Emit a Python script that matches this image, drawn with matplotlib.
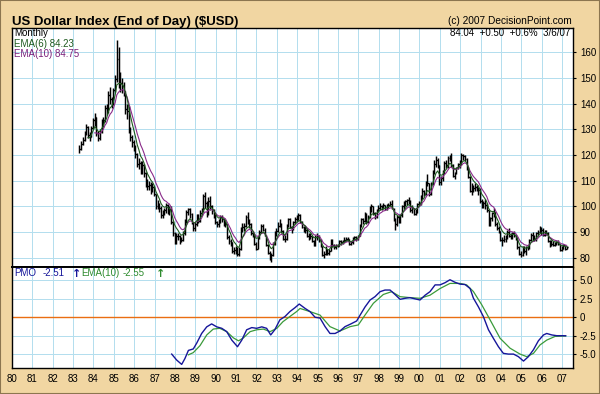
import matplotlib
matplotlib.use("Agg")
import matplotlib.pyplot as plt
from matplotlib.patches import Rectangle
import numpy as np

plt.rcParams['font.family'] = ['Liberation Sans', 'DejaVu Sans']

# ---------------- data ----------------
start_year, start_month = 1983, 4   # first monthly bar: Apr 1983, last: Mar 2007

closes = [
    122.5, 124.5, 126.0, 128.5, 131.0, 128.0, 127.0, 130.5, 133.5,
    135.0, 128.5, 126.5, 129.0, 133.0, 133.5, 138.5, 137.0, 143.5, 142.0, 140.5, 145.5,
    149.5, 157.5, 149.0, 148.0, 147.0, 145.0, 138.0, 137.0, 130.0, 127.0, 125.0, 123.0,
    120.5, 116.5, 117.0, 113.5, 116.0, 113.0, 109.0, 108.0, 108.5, 107.0, 107.5, 105.0,
    100.0, 101.0, 99.5, 96.5, 97.5, 98.5, 100.5, 98.5, 99.0, 94.0, 89.5, 86.5,
    88.5, 88.5, 86.5, 87.0, 89.5, 94.0, 98.0, 99.0, 97.0, 93.5, 91.5, 93.0,
    96.5, 94.5, 97.5, 98.5, 104.0, 101.5, 97.5, 102.0, 100.0, 98.5, 96.5, 94.0,
    93.0, 94.0, 96.0, 95.0, 94.0, 93.0, 88.0, 86.5, 86.0, 82.5, 83.0, 83.5,
    81.5, 83.5, 91.5, 92.0, 92.5, 96.0, 93.5, 93.0, 89.5, 89.0, 85.5, 83.5,
    88.0, 90.0, 92.5, 91.0, 89.0, 85.0, 82.0, 79.5, 81.0, 85.5, 90.0, 90.5,
    92.5, 93.0, 90.5, 87.5, 87.5, 92.5, 95.0, 92.0, 91.5, 94.0, 95.0, 95.5,
    96.5, 94.0, 92.0, 91.0, 91.0, 88.5, 88.5, 88.5, 86.5, 85.0, 88.0, 88.5,
    87.0, 84.5, 81.0, 81.5, 83.0, 82.0, 82.5, 86.5, 85.0, 84.0, 85.0, 84.5,
    86.5, 86.0, 86.5, 87.0, 87.5, 87.5, 85.5, 86.0, 87.5, 88.0, 87.5, 88.5,
    92.5, 95.0, 94.5, 97.0, 94.0, 96.0, 99.5, 100.0, 97.5, 96.0, 98.5, 99.5,
    100.0, 99.5, 100.5, 99.0, 100.5, 100.5, 101.0, 99.5, 95.0, 93.0, 96.0, 94.5,
    96.5, 100.0, 100.5, 102.0, 102.5, 102.0, 98.5, 99.5, 97.0, 98.0, 101.0, 101.5,
    104.0, 106.0, 105.0, 109.5, 109.0, 105.0, 109.0, 113.5, 116.5, 118.0, 116.0, 109.5,
    111.0, 113.0, 117.0, 116.0, 119.0, 119.5, 116.0, 112.0, 113.0, 115.0, 116.5, 116.5,
    120.0, 119.5, 118.5, 115.0, 111.5, 106.0, 107.5, 107.0, 107.5, 107.0, 106.5, 102.0,
    101.0, 101.5, 100.5, 98.5, 93.5, 95.5, 97.5, 98.0, 93.0, 91.5, 90.5, 87.0,
    87.0, 87.5, 88.0, 90.0, 88.5, 88.5, 89.5, 89.0, 87.5, 84.0, 81.5, 81.0,
    84.0, 82.5, 84.0, 84.0, 87.0, 89.0, 88.0, 87.5, 89.5, 90.0, 91.5, 91.0,
    89.0, 90.5, 89.5, 86.5, 85.0, 85.5, 85.0, 85.5, 86.0, 85.5, 83.0, 83.5,
    85.0, 83.5, 84.04,
]

highs = [
    124, 125.5, 127, 129.5, 132, 131.5, 129, 131.5, 134.5,
    136.5, 135, 129.5, 130, 134, 135, 139.5, 140, 145, 146.5, 142.5, 146,
    151, 164.8, 162, 152.5, 150, 148.5, 145, 140, 139, 131, 128, 126,
    124, 121, 119, 117.5, 117.5, 116.5, 113.5, 110.5, 110, 109.5, 109, 108,
    105, 102.5, 101.5, 100, 98.5, 99.5, 101.5, 101, 100, 100, 94.5, 90,
    89.5, 89.5, 89, 88, 90.5, 95, 98.5, 99.5, 99.5, 97.5, 94, 94,
    97, 97, 98.5, 99.5, 105, 105.5, 102, 103.5, 104, 100.5, 99, 97,
    94.5, 95, 96.5, 96.5, 95.5, 94.5, 93, 89, 87.5, 86, 84, 84.5,
    84, 84, 92, 93.5, 93.5, 96.5, 98, 95, 93.5, 90.5, 89, 86,
    88.5, 91, 93, 93, 91.5, 89, 85.5, 82.5, 82, 86, 90.5, 91.5,
    94, 95, 93.5, 91, 89, 93, 95.5, 95.5, 92.5, 94.5, 96, 96.5,
    97.5, 97, 94.5, 92.5, 92.5, 91.5, 89.5, 89.5, 88.5, 87, 89, 89.5,
    89, 87.5, 84.5, 82.5, 84.5, 83.5, 83.5, 87.5, 87.5, 85.5, 85.5, 85.5,
    87, 87, 87, 88, 88, 88, 87.5, 86.5, 88, 88.5, 88.5, 89,
    93, 95.5, 95.5, 98, 97.5, 96.5, 100, 101, 100, 98, 99, 100.5,
    101.5, 100.5, 101.5, 100.5, 101, 101.5, 102, 102.5, 99.5, 95.5, 96.5, 96.5,
    97, 100.5, 102, 102.5, 103, 103.5, 102.5, 100.5, 99.5, 99, 101.5, 102,
    104.5, 107, 106.5, 110, 112.5, 109, 109.5, 114, 118, 119.5, 119, 116,
    112, 114, 117.5, 118, 119.5, 120, 121, 116.5, 113.5, 115.5, 117, 118,
    121, 120.5, 120, 119, 115.5, 112, 109, 108.5, 109, 108.5, 107.5, 107,
    103, 102, 103, 101.5, 98.5, 96, 98, 99.5, 98, 94, 92.5, 90.5,
    88, 89, 89, 91, 91.5, 89.5, 90, 90.5, 89, 88, 84.5, 82.5,
    84.5, 84.5, 84.5, 85, 87.5, 89.5, 90, 89, 90, 91, 92.5, 92,
    91.5, 91, 91, 90, 87, 87, 86.5, 86, 86.5, 87, 85.5, 84.5,
    85.5, 85, 84.5,
]

lows = [
    121, 122, 124, 125.5, 128, 126.5, 125.5, 127, 130,
    131.5, 127.5, 125.5, 126, 128.5, 131, 133, 135.5, 136.5, 140, 138.5, 139.5,
    144.5, 148.5, 146, 144.5, 144, 143, 136, 134, 128.5, 125.5, 123, 121.5,
    119, 115.5, 114.5, 112.5, 112.5, 111.5, 107.5, 106.5, 106.5, 105, 105.5, 104,
    99, 99, 98, 95.5, 95.5, 96.5, 97.5, 97, 96.5, 93, 88.5, 85.5,
    85.5, 87, 85.5, 86, 86.5, 89, 93.5, 96.5, 95.5, 93, 90.5, 90.5,
    92.5, 93.5, 94, 96.5, 98, 99.5, 96, 96.5, 98.5, 97, 95.5, 93,
    92, 92, 93.5, 94, 92.5, 92, 87.5, 85.5, 84.5, 82, 81.5, 81.5,
    80.5, 80.5, 83, 90, 90.5, 92, 93, 91.5, 89, 88, 85, 83,
    83.5, 87.5, 89.5, 90.5, 88.5, 84.5, 81.5, 79, 78.4, 80.5, 85, 88.5,
    90, 92, 89.5, 87, 86, 87, 92, 91.5, 89.5, 91, 93, 94,
    94.5, 93.5, 91.5, 90, 89.5, 88, 87, 87.5, 86, 84.5, 84.5, 87,
    86, 84, 80.5, 80, 81, 81, 81, 82.5, 84, 83.5, 83.5, 84,
    84.5, 85, 85.5, 86, 86.5, 86.5, 85, 85, 85.5, 87, 86.5, 87,
    88.5, 92, 93, 94, 93, 93.5, 95.5, 98, 96.5, 95, 95.5, 98,
    98.5, 98.5, 99, 98.5, 98.5, 99.5, 100, 99, 94.5, 90.8, 92.5, 93.5,
    93.5, 96, 99, 100, 100.5, 101, 98, 97.5, 96.5, 96.5, 97.5, 100,
    100.5, 103, 104, 104.5, 108, 104, 104.5, 108.5, 112.5, 115.5, 115, 108.5,
    108.5, 110, 112.5, 115, 115, 117.5, 115.5, 111.5, 110.5, 112.5, 114.5, 115,
    116, 118, 117.5, 114, 111, 105.5, 104.5, 105.5, 106, 106, 104.5, 101.5,
    99.5, 99.5, 99, 98, 92.5, 92.5, 94.5, 96, 92.5, 91, 89.5, 86.5,
    84.5, 86, 86, 87.5, 88, 87.5, 87.5, 88, 87, 83.5, 81, 80.4,
    80.5, 82, 81, 83, 83.5, 86.5, 87, 86.5, 86.5, 88.5, 89.5, 89,
    88.5, 88.5, 89, 86, 84, 84.5, 84.5, 84.5, 85, 85, 82.5, 82.5,
    83.5, 83, 83.5,
]

# PMO (blue) and its EMA(10) signal (green)
pmo_dates = [1987.84, 1988.08, 1988.33, 1988.49, 1988.66, 1988.90, 1989.07, 1989.31,
             1989.56, 1989.80, 1990.05, 1990.30, 1990.54, 1990.79, 1991.07, 1991.28,
             1991.52, 1991.77, 1992.01, 1992.26, 1992.50, 1992.70, 1992.90, 1993.15,
             1993.40, 1993.64, 1993.89, 1994.10, 1994.39, 1994.63, 1994.88, 1995.12,
             1995.37, 1995.61, 1995.86, 1996.10, 1996.35, 1996.60, 1996.92, 1997.09,
             1997.33, 1997.58, 1997.82, 1998.07, 1998.31, 1998.56, 1998.80, 1999.05,
             1999.30, 1999.54, 1999.79, 2000.03, 2000.28, 2000.52, 2000.77, 2001.01,
             2001.26, 2001.50, 2001.75, 2002.00, 2002.24, 2002.49, 2002.65, 2002.90,
             2003.14, 2003.39, 2003.63, 2003.88, 2004.12, 2004.37, 2004.62, 2004.86,
             2005.11, 2005.35, 2005.60, 2005.84, 2006.09, 2006.25, 2006.50, 2006.74,
             2006.99, 2007.18]
pmo_vals = [-5.0, -5.8, -6.4, -5.6, -4.5, -4.3, -3.5, -2.2,
            -1.3, -0.9, -1.3, -1.5, -1.95, -3.1, -4.0, -3.1,
            -1.7, -1.4, -1.5, -1.3, -1.5, -2.4, -1.7, -0.35,
            0.1, 0.77, 1.3, 1.8, 1.2, 0.77, 0.0, -0.1,
            -1.27, -2.2, -2.2, -1.86, -1.27, -0.95, -0.5, 0.3,
            1.4, 2.35, 2.8, 3.48, 3.7, 3.7, 3.1, 2.44,
            2.58, 2.67, 2.5, 2.35, 3.0, 3.48, 4.4, 4.4,
            4.7, 5.1, 4.75, 4.5, 4.45, 3.9, 2.6, 1.4,
            0.1, -1.7, -2.85, -4.0, -4.9, -5.0, -5.0, -5.35,
            -5.95, -5.35, -4.4, -3.2, -2.4, -2.2, -2.4, -2.5,
            -2.5, -2.51]

sig_dates = [1988.66, 1988.90, 1989.23, 1989.56, 1989.88, 1990.20, 1990.54, 1990.87,
             1991.12, 1991.36, 1991.69, 1992.01, 1992.34, 1992.67, 1993.00, 1993.30,
             1993.64, 1993.97, 1994.14, 1994.63, 1995.12, 1995.61, 1996.10, 1996.60,
             1997.00, 1997.33, 1997.74, 1998.23, 1998.64, 1999.05, 1999.54, 2000.03,
             2000.52, 2001.01, 2001.50, 2002.00, 2002.32, 2002.65, 2003.06, 2003.47,
             2003.96, 2004.45, 2004.94, 2005.27, 2005.60, 2005.92, 2006.25, 2006.66,
             2007.07, 2007.18]
sig_vals = [-5.1, -4.8, -3.85, -2.4, -1.6, -1.5, -1.95, -2.8,
            -3.2, -2.8, -1.95, -1.7, -1.6, -1.95, -1.5, -0.6,
            0.1, 0.77, 1.2, 0.77, 0.3, -1.27, -1.86, -1.27,
            -1.04, 0.3, 1.9, 3.1, 3.48, 2.8, 2.67, 2.58,
            3.0, 3.9, 4.6, 4.6, 4.4, 3.5, 1.7, -0.35,
            -2.85, -4.2, -5.0, -5.35, -4.9, -3.76, -3.1, -2.6,
            -2.55, -2.55]

year_labels = ['80', '81', '82', '83', '84', '85', '86', '87', '88', '89', '90',
               '91', '92', '93', '94', '95', '96', '97', '98', '99', '00', '01',
               '02', '03', '04', '05', '06', '07']
price_ticks = [80, 90, 100, 110, 120, 130, 140, 150, 160]
pmo_ticks = [-5.0, -2.5, 0, 2.5, 5.0]
pmo_tick_labels = ['-5.0', '-2.5', '0', '2.5', '5.0']

# ---------------- helpers ----------------
n = len(closes)
assert len(highs) == n and len(lows) == n
months = np.arange(n) + (start_month - 1)
t = start_year + months // 12 + ((months % 12) + 0.75) / 12.0
closes_a = np.array(closes, dtype=float)


def ema(values, period):
    out = np.full(len(values), np.nan)
    k = 2.0 / (period + 1)
    out[period - 1] = np.mean(values[:period])
    for i in range(period, len(values)):
        out[i] = values[i] * k + out[i - 1] * (1 - k)
    return out


ema6 = ema(closes_a, 6)
ema10 = ema(closes_a, 10)

# ---------------- figure ----------------
W, H = 600, 394
TAN = '#F1D6A2'
GRID = '#B4DEEE'
fig = plt.figure(figsize=(W / 100, H / 100), dpi=100, facecolor=TAN)

L, R = 12, 573
T1, B1, B2 = 28, 267, 368
ax1 = fig.add_axes([L / W, 1 - B1 / H, (R - L) / W, (B1 - T1) / H])
ax2 = fig.add_axes([L / W, 1 - B2 / H, (R - L) / W, (B2 - B1) / H], sharex=ax1)

years = np.arange(1980, 2008)
for ax in (ax1, ax2):
    ax.set_facecolor('white')
    ax.set_xlim(1980.0, 2007.54)
    ax.set_xticks(years)
    ax.grid(True, color=GRID, lw=0.72)
    ax.set_axisbelow(True)
    ax.yaxis.tick_right()
    ax.tick_params(axis='y', which='both', length=2.5, width=0.8, pad=2.5,
                   labelsize=7, colors='black', direction='out')
    for s in ax.spines.values():
        s.set_color('black')
        s.set_linewidth(1.0)

# main panel
ax1.set_ylim(76.4, 169.5)
ax1.set_yticks(price_ticks)
ax1.set_yticklabels([str(v) for v in price_ticks])
ax1.tick_params(axis='x', length=0, labelbottom=False)
ax1.spines['bottom'].set_linewidth(1.4)

ax1.vlines(t, lows, highs, color='black', lw=1.05)
ax1.hlines(closes, t, t + 0.08, color='black', lw=1.0)
ax1.plot(t, ema10, color='#8A2B8A', lw=0.8)
ax1.plot(t, ema6, color='#1F5A1F', lw=0.8)

# lower panel
ax2.set_ylim(-6.89, 6.83)
ax2.set_yticks(pmo_ticks)
ax2.set_yticklabels(pmo_tick_labels)
ax2.set_xticklabels(year_labels)
ax2.tick_params(axis='x', length=0, pad=4, labelsize=7)
ax2.spines['top'].set_linewidth(1.4)
ax2.axhline(0, color='#EA6E12', lw=1.0)
ax2.plot(sig_dates, sig_vals, color='#3A9A3A', lw=0.9)
ax2.plot(pmo_dates, pmo_vals, color='#16169A', lw=1.0)


def ftext(x, y, s, **kw):
    fig.text(x / W, 1 - y / H, s, **kw)


# titles and annotations
ftext(12.5, 24.5, 'US Dollar Index (End of Day) ($USD)', fontsize=9.5,
      fontweight='bold', va='baseline', ha='left', color='black')
ftext(572, 24.5, '(c) 2007 DecisionPoint.com', fontsize=7.3, va='baseline',
      ha='right', color='black')
ftext(14.5, 36.5, 'Monthly', fontsize=7, va='baseline', color='black')
ftext(14.5, 46.8, 'EMA(6) 84.23', fontsize=7, va='baseline', color='#1F5A1F')
ftext(14.5, 56.8, 'EMA(10) 84.75', fontsize=7, va='baseline', color='#7A1F7A')
ftext(570.5, 36.2, '84.04  +0.50  +0.6%  3/6/07', fontsize=7, va='baseline',
      ha='right', color='black')

BLUE, GREEN = '#16169A', '#2E8B2E'
ftext(14.5, 276.5, 'PMO', fontsize=7, va='baseline', color=BLUE)
ftext(43.0, 276.5, '-2.51', fontsize=7, va='baseline', color=BLUE)
ftext(72.0, 277.0, '\u2191', fontsize=8, fontweight='bold', va='baseline',
      color=BLUE, family=['DejaVu Sans'])
ftext(81.5, 276.5, 'EMA(10)', fontsize=7, va='baseline', color=GREEN)
ftext(122.5, 276.5, '-2.55', fontsize=7, va='baseline', color=GREEN)
ftext(156.0, 277.0, '\u2191', fontsize=8, fontweight='bold', va='baseline',
      color=GREEN, family=['DejaVu Sans'])

# outer border
fig.add_artist(Rectangle((0, 0), 1, 1, transform=fig.transFigure, fill=False,
                         edgecolor='#8C7650', lw=1.5))

fig.savefig('out.png', dpi=100, facecolor=TAN)
